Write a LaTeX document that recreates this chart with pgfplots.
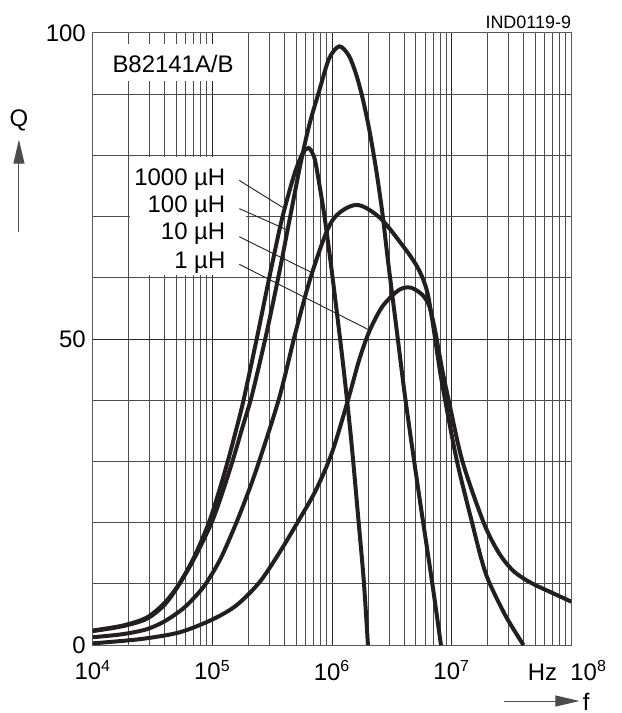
\documentclass[border=0pt]{standalone}
\usepackage{fontspec}
\setmainfont{Liberation Sans}
\usepackage{pgfplots}
\pgfplotsset{compat=1.18}
\usetikzlibrary{arrows.meta}
\definecolor{curve}{RGB}{35,31,32}

\begin{document}
\begin{tikzpicture}[font=\fontsize{12}{14}\selectfont]
\begin{axis}[
    scale only axis,
    width=240pt, height=307pt,
    xmode=log,
    xmin=1e4, xmax=1e8,
    ymin=0, ymax=100,
    xtick={1e4,1e5,1e6,1e7,1e8},
    xticklabels={10\textsuperscript{4},10\textsuperscript{5},10\textsuperscript{6},10\textsuperscript{7},Hz\ \ 10\textsuperscript{8}\hspace*{4pt}},
    xticklabel style={yshift=-4pt},
    minor xtick={2e4,3e4,4e4,5e4,6e4,7e4,8e4,9e4,
                 2e5,3e5,4e5,5e5,6e5,7e5,8e5,9e5,
                 2e6,3e6,4e6,5e6,6e6,7e6,8e6,9e6,
                 2e7,3e7,4e7,5e7,6e7,7e7,8e7,9e7},
    ytick={0,50,100},
    yticklabels={0,50,100},
    minor ytick={10,20,30,40,60,70,80,90},
    grid=both,
    major grid style={line width=0.5pt, draw=black!85},
    minor grid style={line width=0.5pt, draw=black!70},
    axis line style={line width=0.5pt, draw=black!65},
    major tick length=0pt, minor tick length=0pt,
    tick label style={font=\fontsize{12}{14}\selectfont},
    qcurve/.style={draw=curve, line width=2pt, mark=none, smooth, tension=0.5},
]
% white boxes behind the texts
\fill[white] (axis cs:1.15e4,92.2) rectangle (axis cs:1.9e5,98.2);
\fill[white] (axis cs:2.04e4,60.4) rectangle (axis cs:1.9e5,79.7);
\node[anchor=base] at (axis cs:4.69e4,93.5) {B82141A/B};
\node[anchor=base east] at (axis cs:1.468e5,75.1) {1000 µH};
\node[anchor=base east] at (axis cs:1.468e5,70.6) {100 µH};
\node[anchor=base east] at (axis cs:1.468e5,66.2) {10 µH};
\node[anchor=base east] at (axis cs:1.468e5,61.6) {1 µH};
\draw[line width=0.45pt, curve] (axis cs:1.679e5,75.9) -- (axis cs:3.86e5,71.5);
\draw[line width=0.45pt, curve] (axis cs:1.679e5,71.3) -- (axis cs:4.246e5,67.8);
\draw[line width=0.45pt, curve] (axis cs:1.679e5,66.7) -- (axis cs:6.855e5,60.8);
\draw[line width=0.45pt, curve] (axis cs:1.679e5,62.2) -- (axis cs:2.032e6,51.5);

% 1000 uH
\addplot[qcurve] coordinates {
(1e4,2.4) (1.778e4,3.2) (2.818e4,4.5) (3.981e4,6.9) (5.309e4,10.1) (7.079e4,14.5)
(9.333e4,20) (1.122e5,24.8) (1.343e5,30) (1.585e5,35.3) (1.820e5,40)
(2.344e5,50) (2.985e5,60) (3.802e5,69.5) (4.819e5,76.8) (5.662e5,80.3) (6.353e5,81.2)
(6.839e5,80.4) (7.311e5,78.6) (8.570e5,70.5) (9.750e5,62.4) (1.107e6,53.7)
(1.259e6,44.5) (1.445e6,33.5) (1.660e6,20.5) (1.841e6,10.5) (1.995e6,0)
};
% 100 uH
\addplot[qcurve] coordinates {
(1e4,2.3) (1.778e4,3.1) (2.818e4,4.3) (3.981e4,6.6) (5.309e4,10) (7.244e4,14.6)
(9.931e4,20.2) (1.230e5,25.3) (1.496e5,30.5) (1.778e5,35.5) (2.138e5,40.8)
(2.799e5,50.5) (3.589e5,60.5) (4.467e5,70) (5.433e5,78.5) (6.457e5,85) (7.798e5,90.5)
(9.441e5,95.8) (1.148e6,97.8) (1.380e6,96.3) (1.585e6,93.3) (1.791e6,89.5)
(2.032e6,84.5) (2.312e6,78.2) (2.624e6,70.8) (2.944e6,62.5) (3.467e6,51.5)
(4.111e6,40) (5.309e6,24.8) (6.855e6,10.3) (8.128e6,0)
};
% 10 uH
\addplot[qcurve] coordinates {
(1e4,1.3) (1.778e4,1.8) (2.818e4,2.6) (3.981e4,3.9) (5.623e4,5.9) (7.079e4,7.8)
(8.851e4,10.1) (1.175e5,14.2) (1.585e5,20) (1.995e5,25) (2.455e5,30)
(3.631e5,40.5) (5.012e5,51.5) (6.855e5,61) (1e6,69.3) (1.585e6,71.9) (2.512e6,69.8)
(3.981e6,65) (5.012e6,62.2) (5.754e6,59.8) (6.310e6,57.3) (6.918e6,52.8)
(7.943e6,45) (8.913e6,39.5) (1.107e7,30) (1.479e7,20) (1.766e7,14.1)
(2.042e7,10.4) (2.818e7,4.8) (3.981e7,0)
};
% 1 uH
\addplot[qcurve] coordinates {
(1e4,0.3) (2.512e4,1.0) (5.309e4,2.1) (1e5,4.2) (1.585e5,6.5) (2.455e5,10.2)
(3.548e5,14.8) (5.129e5,20) (7.311e5,25.3) (1e6,31.5) (1.380e6,40.5) (1.679e6,46.5)
(2.042e6,51.2) (2.630e6,55.3) (3.614e6,58) (4.529e6,58.4) (5.623e6,57.3)
(6.457e6,55.5) (7.244e6,51.5) (8.318e6,45) (9.550e6,39.5) (1.230e7,30) (1.849e7,20)
(2.455e7,15.2) (3.162e7,12.4) (3.981e7,10.9) (5.012e7,9.8) (6.310e7,8.9)
(7.943e7,8.0) (1e8,7.1)
};
\end{axis}
% axis names with arrows
\node at ([shift={(-37pt,263pt)}]current axis.south west) {Q};
\draw[line width=0.5pt, black!70, -{Triangle[length=12pt,width=5.5pt]}]
  ([shift={(-37pt,207pt)}]current axis.south west) -- ([shift={(-37pt,253.5pt)}]current axis.south west);
\draw[line width=0.5pt, black!70, -{Triangle[length=12pt,width=5.5pt]}]
  ([shift={(206pt,-28pt)}]current axis.south west) -- ([shift={(244pt,-28pt)}]current axis.south west);
\node[anchor=base west, inner sep=0pt] at ([shift={(245.5pt,-32.5pt)}]current axis.south west) {f};
\node[anchor=base east, inner sep=0pt, font=\fontsize{9}{10}\selectfont] at ([shift={(0pt,2.4pt)}]current axis.north east) {IND0119-9};
\path ([shift={(-46.5pt,-34pt)}]current axis.south west) rectangle ([shift={(16pt,16.5pt)}]current axis.north east);
\end{tikzpicture}
\end{document}
